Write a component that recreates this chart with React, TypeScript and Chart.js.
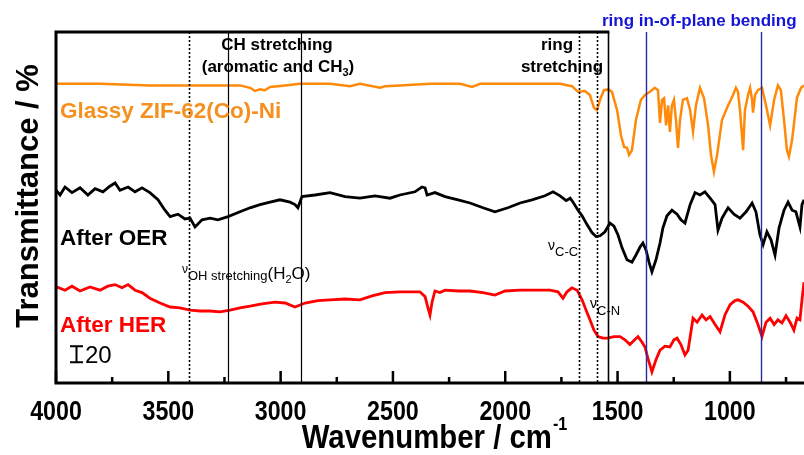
import React, { useEffect, useRef } from "react";
import { Chart, registerables } from "chart.js";
Chart.register(...registerables);

// ---- Data (wavenumber in cm^-1, transmittance in % with vertical offsets) ----
const glassyWavenumber = [4000, 3804, 3582, 3359, 3181, 3136, 3114, 3092, 3070, 3047, 2980, 2914, 2780, 2691, 2647, 2558, 2535, 2469, 2335, 2201, 2148, 2112, 1934, 1756, 1703, 1676, 1645, 1623, 1605, 1592, 1578, 1561, 1541, 1525, 1502, 1485, 1471, 1458, 1449, 1436, 1418, 1396, 1378, 1356, 1334, 1320, 1311, 1302, 1293, 1284, 1275, 1267, 1258, 1249, 1240, 1231, 1222, 1209, 1191, 1177, 1164, 1151, 1133, 1115, 1097, 1084, 1071, 1057, 1035, 1008, 986, 973, 964, 955, 941, 933, 919, 910, 901, 897, 888, 875, 857, 839, 821, 803, 786, 773, 759, 746, 737, 723, 701, 683, 670];
const glassyValues = [374, 374, 372, 372, 372, 369, 365, 367, 366, 370, 372, 374, 374, 371, 374, 369, 371, 372, 374, 374, 370, 374, 374, 374, 371, 364, 365, 360, 344, 341, 354, 366, 367, 364, 341, 310, 295, 294, 285, 291, 329, 354, 360, 364, 369, 366, 325, 354, 356, 322, 347, 314, 347, 354, 329, 294, 329, 354, 356, 341, 314, 347, 369, 356, 322, 285, 264, 285, 329, 347, 360, 369, 364, 341, 291, 341, 360, 369, 354, 338, 360, 366, 369, 347, 322, 354, 372, 366, 329, 291, 283, 304, 357, 369, 372];

const oerWavenumber = [4000, 3982, 3960, 3929, 3893, 3858, 3826, 3791, 3760, 3737, 3715, 3679, 3648, 3617, 3582, 3546, 3515, 3492, 3457, 3426, 3403, 3381, 3350, 3314, 3279, 3234, 3181, 3136, 3092, 3047, 3003, 2958, 2936, 2923, 2905, 2847, 2780, 2713, 2647, 2580, 2513, 2469, 2402, 2371, 2357, 2348, 2313, 2268, 2210, 2157, 2099, 2046, 1988, 1934, 1881, 1823, 1787, 1756, 1729, 1711, 1698, 1676, 1658, 1636, 1614, 1596, 1578, 1556, 1534, 1516, 1498, 1480, 1458, 1436, 1418, 1400, 1387, 1373, 1360, 1347, 1329, 1311, 1298, 1280, 1258, 1235, 1218, 1200, 1177, 1155, 1133, 1111, 1088, 1066, 1053, 1035, 1008, 982, 955, 928, 901, 884, 866, 852, 835, 817, 799, 781, 759, 741, 723, 706, 688, 679, 670];
const oerValues = [241, 235, 245, 238, 244, 235, 243, 239, 246, 250, 241, 245, 239, 244, 238, 229, 216, 208, 211, 205, 206, 195, 204, 206, 204, 208, 214, 219, 223, 226, 229, 226, 223, 219, 233, 235, 238, 233, 231, 234, 231, 235, 239, 245, 244, 235, 238, 233, 229, 225, 219, 214, 219, 225, 229, 234, 239, 234, 228, 231, 226, 216, 209, 198, 188, 183, 184, 189, 200, 196, 185, 169, 154, 151, 160, 170, 175, 166, 151, 139, 154, 175, 194, 209, 216, 211, 204, 200, 223, 238, 235, 239, 231, 223, 191, 206, 219, 211, 206, 214, 225, 214, 185, 173, 189, 179, 160, 194, 216, 226, 216, 214, 195, 223, 229];

const herWavenumber = [3996, 3960, 3929, 3893, 3849, 3804, 3769, 3737, 3706, 3679, 3648, 3617, 3582, 3537, 3492, 3448, 3403, 3359, 3314, 3270, 3225, 3181, 3136, 3083, 3025, 2980, 2936, 2891, 2834, 2780, 2713, 2647, 2593, 2535, 2469, 2415, 2380, 2357, 2344, 2335, 2326, 2313, 2291, 2268, 2210, 2157, 2099, 2046, 2001, 1934, 1867, 1801, 1765, 1743, 1725, 1703, 1680, 1658, 1640, 1623, 1605, 1587, 1565, 1543, 1516, 1489, 1467, 1445, 1427, 1409, 1391, 1378, 1365, 1347, 1329, 1311, 1289, 1267, 1249, 1235, 1218, 1200, 1186, 1164, 1146, 1124, 1106, 1088, 1066, 1044, 1022, 999, 977, 964, 941, 919, 897, 875, 857, 839, 821, 803, 786, 768, 750, 732, 715, 701, 688, 679, 670];
const herValues = [120, 116, 121, 115, 120, 116, 121, 123, 119, 123, 116, 113, 106, 100, 95, 94, 91, 90, 90, 89, 91, 94, 96, 99, 101, 100, 95, 100, 103, 104, 105, 104, 109, 113, 114, 114, 114, 108, 94, 85, 101, 115, 113, 116, 115, 115, 113, 110, 115, 116, 116, 116, 114, 106, 114, 119, 116, 104, 91, 79, 66, 58, 56, 56, 58, 58, 54, 48, 53, 58, 51, 45, 31, 14, 29, 41, 46, 45, 54, 56, 48, 35, 41, 81, 76, 85, 79, 83, 73, 64, 85, 98, 103, 104, 101, 96, 89, 73, 58, 76, 81, 73, 79, 75, 84, 76, 66, 81, 79, 104, 126];

const majorTicks = [4000, 3500, 3000, 2500, 2000, 1500, 1000];
const minorTicks = [3750, 3250, 2750, 2250, 1750, 1250, 750];
const dottedMarkers = [3410, 1670, 1590];
const solidMarkers = [3235, 2910, 1541];
const blueMarkers = [1374, 862];
const scaleBarSpan = 20;
const scaleBarBase = 26;

const X_MIN = 670;
const X_MAX = 4000;
const Y_MIN = 0;
const Y_MAX = 438.75;

const SANS = "'Liberation Sans', Arial, Helvetica, sans-serif";

const ORANGE_LINE = "#ff8a0a";
const ORANGE_TEXT = "#f5901e";
const RED = "#ff0000";
const BLUE_TEXT = "#1414d8";
const BLUE_LINE = "#2a2aa0";

function toPoints(xs: number[], ys: number[]) {
  return xs.map((x, i) => ({ x, y: ys[i] }));
}

function condensed(ctx: CanvasRenderingContext2D, s: string, x: number, y: number, font: string, sx: number, align: CanvasTextAlign) {
  ctx.save();
  ctx.translate(x, y);
  ctx.scale(sx, 1);
  ctx.font = font;
  ctx.fillStyle = "#000";
  ctx.textAlign = align;
  ctx.textBaseline = "alphabetic";
  ctx.fillText(s, 0, 0);
  const w = ctx.measureText(s).width * sx;
  ctx.restore();
  return w;
}

const overlayPlugin = {
  id: "overlay",
  afterDatasetsDraw(chart: any) {
    const ctx = chart.ctx as CanvasRenderingContext2D;
    const xs = chart.scales.x;
    const area = chart.chartArea;
    ctx.save();
    const vline = (w: number, color: string, width: number, dash: number[]) => {
      const px = Math.round(xs.getPixelForValue(w)) + 0.5;
      ctx.beginPath();
      ctx.setLineDash(dash);
      ctx.strokeStyle = color;
      ctx.lineWidth = width;
      ctx.moveTo(px, area.top);
      ctx.lineTo(px, area.bottom);
      ctx.stroke();
    };
    dottedMarkers.forEach((w) => vline(w, "#000", 1.6, [2, 2]));
    solidMarkers.forEach((w, i) => vline(w, "#000", i === 2 ? 1.6 : 1.2, []));
    blueMarkers.forEach((w) => vline(w, BLUE_LINE, 1.4, []));
    ctx.restore();
  },
  afterDraw(chart: any) {
    const ctx = chart.ctx as CanvasRenderingContext2D;
    const xs = chart.scales.x;
    const ys = chart.scales.y;
    const area = chart.chartArea;
    ctx.save();
    ctx.setLineDash([]);
    ctx.strokeStyle = "#000";
    // spines
    ctx.lineWidth = 3;
    ctx.beginPath();
    ctx.moveTo(area.left, area.top - 1.5);
    ctx.lineTo(area.left, area.bottom + 1.5);
    ctx.moveTo(area.left - 1.5, area.bottom);
    ctx.lineTo(chart.width, area.bottom);
    ctx.moveTo(area.left - 1.5, area.top);
    ctx.lineTo(xs.getPixelForValue(solidMarkers[2]) + 1, area.top);
    ctx.stroke();
    // ticks (inward)
    ctx.lineWidth = 2.5;
    ctx.beginPath();
    majorTicks.forEach((w) => {
      const px = xs.getPixelForValue(w);
      ctx.moveTo(px, area.bottom);
      ctx.lineTo(px, area.bottom - 12);
    });
    minorTicks.forEach((w) => {
      const px = xs.getPixelForValue(w);
      ctx.moveTo(px, area.bottom);
      ctx.lineTo(px, area.bottom - 6);
    });
    ctx.stroke();

    // tick labels (condensed bold)
    majorTicks.forEach((w) => {
      condensed(ctx, String(w), xs.getPixelForValue(w), 420, `bold 28px ${SANS}`, 0.83, "center");
    });

    const text = (s: string, x: number, y: number, font: string, color: string, align: CanvasTextAlign = "left") => {
      ctx.font = font;
      ctx.fillStyle = color;
      ctx.textAlign = align;
      ctx.textBaseline = "alphabetic";
      ctx.fillText(s, x, y);
      return ctx.measureText(s).width;
    };

    // y title
    ctx.save();
    ctx.translate(29, 196);
    ctx.rotate(-Math.PI / 2);
    ctx.font = `bold 31px ${SANS}`;
    ctx.fillStyle = "#000";
    ctx.textAlign = "center";
    ctx.textBaseline = "middle";
    ctx.fillText("Transmittance / %", 0, 0);
    ctx.restore();

    // x title (condensed)
    ctx.font = `bold 33px ${SANS}`;
    const w1 = ctx.measureText("Wavenumber / cm").width * 0.89;
    ctx.font = `bold 19px ${SANS}`;
    const w2 = ctx.measureText("-1").width * 0.85;
    const sx = 434 - (w1 + w2) / 2;
    condensed(ctx, "Wavenumber / cm", sx, 448, `bold 33px ${SANS}`, 0.89, "left");
    condensed(ctx, "-1", sx + w1 + 1, 430, `bold 19px ${SANS}`, 0.85, "left");

    // annotation labels
    const b17 = `bold 17px ${SANS}`;
    text("CH stretching", 277, 50, b17, "#000", "center");
    ctx.font = b17;
    const a1 = ctx.measureText("(aromatic and CH").width;
    ctx.font = `bold 11px ${SANS}`;
    const a2 = ctx.measureText("3").width;
    ctx.font = b17;
    const a3 = ctx.measureText(")").width;
    const ax = 278 - (a1 + a2 + a3) / 2;
    text("(aromatic and CH", ax, 72, b17, "#000");
    text("3", ax + a1, 76, `bold 11px ${SANS}`, "#000");
    text(")", ax + a1 + a2, 72, b17, "#000");

    text("ring", 557, 50, b17, "#000", "center");
    text("stretching", 562, 72, b17, "#000", "center");
    text("ring in-of-plane bending", 602, 26, b17, BLUE_TEXT);

    // series labels
    const b22 = `bold 22.5px ${SANS}`;
    text("Glassy ZIF-62(Co)-Ni", 60, 118, b22, ORANGE_TEXT);
    text("After OER", 60, 245, b22, "#000");
    text("After HER", 60, 332, b22, RED);

    // scale bar
    const yTop = ys.getPixelForValue(scaleBarBase + scaleBarSpan);
    const yBot = ys.getPixelForValue(scaleBarBase);
    ctx.lineWidth = 2;
    ctx.strokeStyle = "#000";
    ctx.beginPath();
    ctx.moveTo(70, yTop);
    ctx.lineTo(83, yTop);
    ctx.moveTo(76.5, yTop);
    ctx.lineTo(76.5, yBot);
    ctx.moveTo(70, yBot);
    ctx.lineTo(83, yBot);
    ctx.stroke();
    text(String(scaleBarSpan), 85, 363, `24px ${SANS}`, "#000");

    // nu labels
    const r13 = `13px ${SANS}`;
    let nx = 182;
    nx += text("\u03bd", nx, 273, `12px ${SANS}`, "#000");
    nx += text("OH stretching", nx, 280, r13, "#000");
    nx += text("(H", nx, 279, `17px ${SANS}`, "#000");
    nx += text("2", nx, 283, `11px ${SANS}`, "#000");
    text("O)", nx, 279, `17px ${SANS}`, "#000");
    let cx = 548;
    cx += text("\u03bd", cx, 250, `14px ${SANS}`, "#000");
    text("C-C", cx, 256, r13, "#000");
    let cn = 590;
    cn += text("\u03bd", cn, 308, `14px ${SANS}`, "#000");
    text("C-N", cn, 315, r13, "#000");

    ctx.restore();
  },
};

export default function App() {
  const ref = useRef<HTMLCanvasElement | null>(null);
  useEffect(() => {
    if (!ref.current) return;
    const common = { pointRadius: 0, tension: 0, fill: false };
    const chart = new Chart(ref.current, {
      type: "line",
      data: {
        datasets: [
          { label: "Glassy ZIF-62(Co)-Ni", data: toPoints(glassyWavenumber, glassyValues), borderColor: ORANGE_LINE, borderWidth: 2.5, ...common },
          { label: "After OER", data: toPoints(oerWavenumber, oerValues), borderColor: "#000000", borderWidth: 2.8, ...common },
          { label: "After HER", data: toPoints(herWavenumber, herValues), borderColor: RED, borderWidth: 2.8, ...common },
        ],
      },
      options: {
        animation: false,
        responsive: false,
        maintainAspectRatio: false,
        layout: { padding: { top: 32, right: 0, left: 0, bottom: 0 } },
        plugins: { legend: { display: false }, tooltip: { enabled: false } },
        scales: {
          x: {
            type: "linear",
            reverse: true,
            min: X_MIN,
            max: X_MAX,
            grid: { display: false, drawTicks: false },
            border: { display: false },
            afterBuildTicks: (scale: any) => {
              scale.ticks = majorTicks.map((v) => ({ value: v }));
            },
            afterFit: (scale: any) => {
              scale.height = 72;
            },
            ticks: { display: false, autoSkip: false, maxRotation: 0 },
          },
          y: {
            type: "linear",
            min: Y_MIN,
            max: Y_MAX,
            grid: { display: false, drawTicks: false },
            border: { display: false },
            ticks: { display: false },
            afterFit: (scale: any) => {
              scale.width = 56;
            },
          },
        },
      } as any,
      plugins: [overlayPlugin],
    });
    return () => chart.destroy();
  }, []);
  return (
    <div style={{ position: "absolute", left: 0, top: 0, width: 804, height: 455, background: "#fff" }}>
      <canvas ref={ref} width={804} height={455} style={{ display: "block" }} />
    </div>
  );
}
